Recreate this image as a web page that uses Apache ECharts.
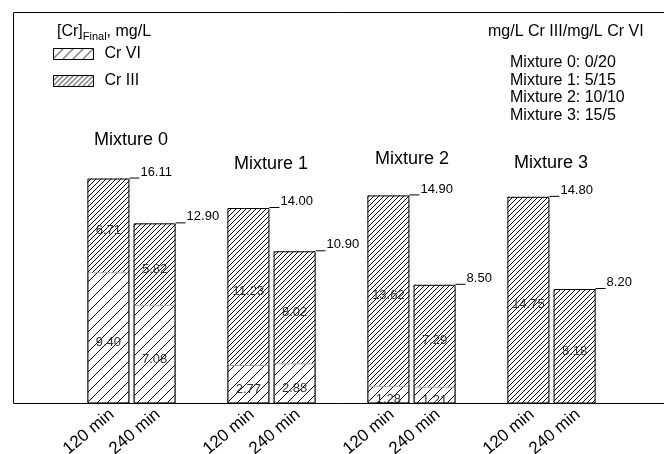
<!DOCTYPE html>
<html>
<head>
<meta charset="utf-8">
<script src="https://cdn.jsdelivr.net/npm/echarts@6/dist/echarts.min.js"></script>
<style>
  html, body { margin: 0; padding: 0; background: #fff; }
  #chart { width: 664px; height: 454px; }
</style>
</head>
<body>
<div id="chart"></div>
<script>
// Final chromium concentration per mixture, split into Cr VI and Cr III (mg/L)
const mixtures = ['Mixture 0', 'Mixture 1', 'Mixture 2', 'Mixture 3'];
const times = ['120 min', '240 min'];
const crVI120 = [9.40, 2.77, 1.28, 0.05];
const crIII120 = [6.71, 11.23, 13.62, 14.75];
const crVI240 = [7.08, 2.88, 1.21, 0.02];
const crIII240 = [5.82, 8.02, 7.29, 8.18];
const total120 = [16.11, 14.00, 14.90, 14.80];
const total240 = [12.90, 10.90, 8.50, 8.20];
const ratioLines = ['Mixture 0: 0/20', 'Mixture 1: 5/15', 'Mixture 2: 10/10', 'Mixture 3: 15/5'];

const FONT = '"Liberation Sans", Arial, sans-serif';

// Diagonal hatch tile; step = horizontal spacing between lines
function hatch(step) {
  const c = document.createElement('canvas');
  c.width = step; c.height = step;
  const g = c.getContext('2d');
  g.fillStyle = '#fff';
  g.fillRect(0, 0, step, step);
  g.strokeStyle = '#000';
  g.lineWidth = 1;
  g.beginPath();
  for (const k of [-step, 0, step]) {
    g.moveTo(k, step);
    g.lineTo(k + step, 0);
  }
  g.stroke();
  return { image: c, repeat: 'repeat' };
}
const patVI = hatch(10);
const patIII = hatch(5);

const BAR_W = 42;
const GAP = '10%';

const innerLabel = {
  show: true,
  position: 'inside',
  offset: [0, 5],
  fontFamily: FONT,
  fontSize: 13,
  color: '#333',
  formatter: p => (p.value < 0.5 ? '' : p.value.toFixed(2))
};

function segment(name, data, stack, pattern, bordered) {
  return {
    type: 'bar', name, data, stack,
    xAxisIndex: 0, yAxisIndex: 0,
    barWidth: BAR_W, barGap: GAP,
    itemStyle: bordered
      ? { color: pattern, borderColor: '#9a9a9a', borderWidth: 1 }
      : { color: pattern, borderWidth: 0 },
    label: innerLabel,
    emphasis: { disabled: true },
    z: 2
  };
}

function timeLabel(text, stack) {
  return {
    type: 'bar', name: text + ' axis', data: mixtures.map(() => 0), stack,
    xAxisIndex: 1, yAxisIndex: 0,
    barWidth: BAR_W, barGap: GAP,
    itemStyle: { color: 'transparent' },
    label: {
      show: true, position: 'bottom', distance: 0,
      rotate: 40, align: 'right', verticalAlign: 'middle',
      offset: [-3, 9],
      fontFamily: FONT, fontSize: 17, color: '#000',
      formatter: () => text
    },
    emphasis: { disabled: true },
    silent: true, z: 4
  };
}

function outline(data, stack) {
  return {
    type: 'bar', name: stack + ' total', data, stack,
    xAxisIndex: 1, yAxisIndex: 0,
    barWidth: BAR_W, barGap: GAP,
    itemStyle: { color: 'transparent', borderColor: '#000', borderWidth: 1 },
    label: {
      show: true,
      position: ['100%', 0],
      align: 'left', verticalAlign: 'bottom',
      formatter: p => '{l|}{v|' + p.value.toFixed(2) + '}',
      rich: {
        l: { width: 10, height: 1, backgroundColor: '#000', verticalAlign: 'bottom' },
        v: { fontFamily: FONT, fontSize: 13, lineHeight: 12, color: '#000', verticalAlign: 'bottom', padding: [0, 0, 0, 1] }
      }
    },
    emphasis: { disabled: true },
    silent: true, z: 5
  };
}

const groupLabelPos = [[131, 140], [271, 164], [412, 159], [551, 163]];

const option = {
  animation: false,
  backgroundColor: '#fff',
  title: [
    {
      text: '[Cr]{sub|Final}, mg/L',
      left: 52, top: 16,
      textStyle: {
        fontFamily: FONT, fontSize: 16, fontWeight: 'normal', color: '#000',
        rich: { sub: { fontFamily: FONT, fontSize: 11, color: '#000', padding: [10, 0, 0, 0] } }
      }
    },
    {
      text: 'mg/L Cr III/mg/L Cr VI',
      left: 483, top: 18,
      textStyle: { fontFamily: FONT, fontSize: 16, fontWeight: 'normal', color: '#000', lineHeight: 18 }
    },
    {
      text: ratioLines.join('\n'),
      left: 505, top: 49,
      textStyle: { fontFamily: FONT, fontSize: 16, fontWeight: 'normal', color: '#000', lineHeight: 17.5 }
    }
  ],
  legend: {
    orient: 'vertical',
    left: 48, top: 41,
    itemWidth: 40, itemHeight: 11, itemGap: 11,
    icon: 'rect',
    selectedMode: false,
    textStyle: { fontFamily: FONT, fontSize: 16, color: '#000', padding: [0, 0, 0, 6] },
    data: [
      { name: 'Cr VI', itemStyle: { color: patVI, borderColor: '#000', borderWidth: 1 } },
      { name: 'Cr III', itemStyle: { color: patIII, borderColor: '#000', borderWidth: 1 } }
    ]
  },
  grid: { left: 61.5, right: 42.5, top: 12.5, bottom: 50.5 },
  xAxis: [
    { type: 'category', data: mixtures, show: false },
    { type: 'category', data: mixtures, show: false }
  ],
  yAxis: { type: 'value', min: 0, max: 28, show: false },
  series: [
    segment('Cr VI', crVI120, 'A', patVI, true),
    segment('Cr III', crIII120, 'A', patIII, false),
    segment('Cr VI', crVI240, 'B', patVI, true),
    segment('Cr III', crIII240, 'B', patIII, false),
    timeLabel(times[0], 'oA'),
    outline(total120, 'oA'),
    timeLabel(times[1], 'oB'),
    outline(total240, 'oB')
  ],
  graphic: [
    {
      type: 'polyline', silent: true, z: 10,
      shape: { points: [[664, 12.5], [13.5, 12.5], [13.5, 403.5], [664, 403.5]] },
      style: { stroke: '#000', lineWidth: 1, fill: null }
    }
  ].concat(mixtures.map((m, i) => ({
    type: 'text', silent: true, z: 10,
    x: groupLabelPos[i][0], y: groupLabelPos[i][1],
    style: {
      text: m, fill: '#000', font: '18px ' + FONT,
      textAlign: 'center', textVerticalAlign: 'middle'
    }
  })))
};

const chart = echarts.init(document.getElementById('chart'), null, { renderer: 'canvas' });
chart.setOption(option);
</script>
</body>
</html>
